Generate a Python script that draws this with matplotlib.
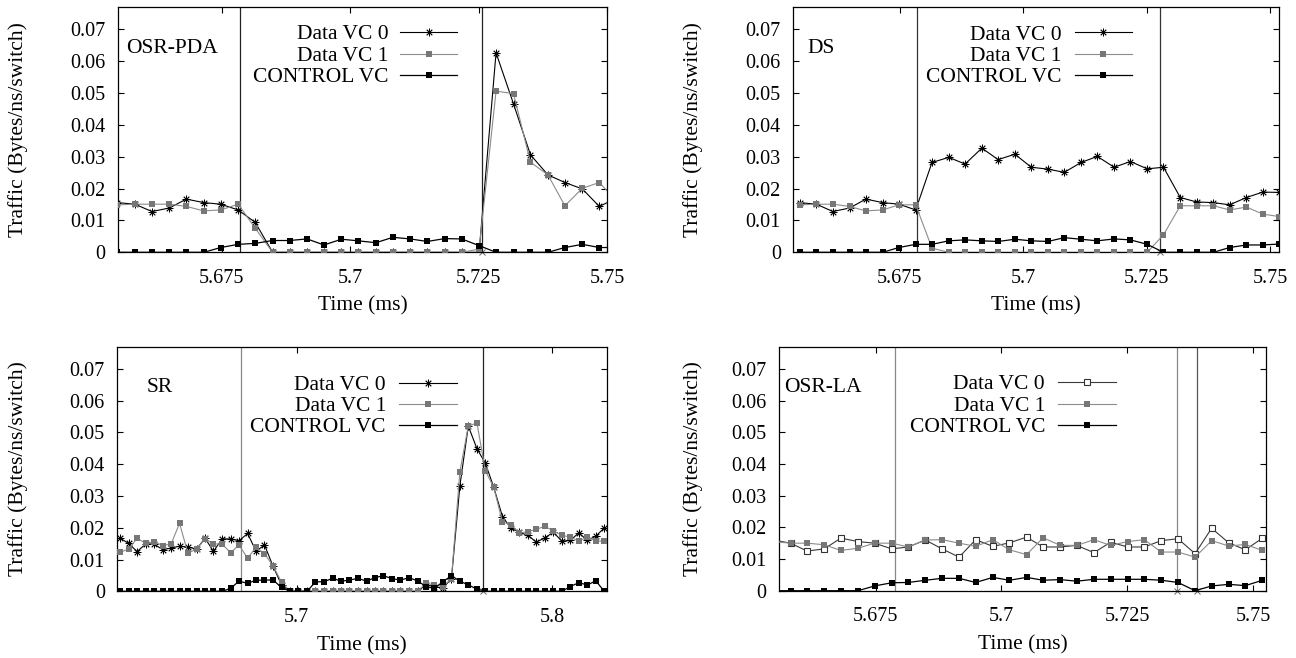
import numpy as np
import matplotlib
matplotlib.use('Agg')
from matplotlib import pyplot as plt
from matplotlib.lines import Line2D

W, H = 1296, 658

# sample times (ms) of the OSR-PDA, DS and OSR-LA runs
time_a = [5.6547, 5.6581, 5.6614, 5.6648, 5.6681, 5.6715, 5.6748, 5.6782, 5.6815, 5.6849,
          5.6882, 5.6916, 5.6949, 5.6983, 5.7016, 5.7050, 5.7083, 5.7117, 5.7150, 5.7184,
          5.7217, 5.7251, 5.7284, 5.7318, 5.7351, 5.7385, 5.7418, 5.7452, 5.7485, 5.7519]

# sample times (ms) of the SR run
time_sr = [5.6307, 5.6340, 5.6374, 5.6407, 5.6440, 5.6474, 5.6507, 5.6540, 5.6573, 5.6607,
           5.6640, 5.6673, 5.6707, 5.6740, 5.6773, 5.6807, 5.6840, 5.6873, 5.6906, 5.6940,
           5.6973, 5.7006, 5.7040, 5.7073, 5.7106, 5.7140, 5.7173, 5.7206, 5.7239, 5.7273,
           5.7306, 5.7339, 5.7373, 5.7406, 5.7439, 5.7473, 5.7506, 5.7539, 5.7572, 5.7606,
           5.7639, 5.7672, 5.7706, 5.7739, 5.7772, 5.7806, 5.7839, 5.7872, 5.7905, 5.7939,
           5.7972, 5.8005, 5.8039, 5.8072, 5.8105, 5.8139, 5.8172, 5.8205]

pda_vc0 = [0.0156, 0.0151, 0.0128, 0.0139, 0.0167, 0.0156, 0.0151, 0.0133, 0.0094,
           0, 0, 0, 0, 0, 0, 0, 0, 0, 0, 0, 0, 0,
           0.0626, 0.0466, 0.0306, 0.0243, 0.0219, 0.0199, 0.0144, 0.0170]
pda_vc1 = [0.0149, 0.0151, 0.0151, 0.0151, 0.0144, 0.0130, 0.0133, 0.0151, 0.0076,
           0, 0, 0, 0, 0, 0, 0, 0, 0, 0, 0, 0,
           0.0010, 0.0506, 0.0498, 0.0283, 0.0243, 0.0146, 0.0201, 0.0219, 0.0160]
pda_ctrl = [0, 0, 0, 0, 0, 0, 0.0015, 0.0025, 0.0028, 0.0037, 0.0037, 0.0042, 0.0023,
            0.0041, 0.0036, 0.0030, 0.0047, 0.0042, 0.0034, 0.0043, 0.0042, 0.0021,
            0, 0, 0, 0, 0.0015, 0.0025, 0.0015, 0.0015]
pda_events = [5.6785, 5.7256]

ds_vc0 = [0.0156, 0.0151, 0.0128, 0.0139, 0.0167, 0.0156, 0.0151, 0.0133, 0.0282, 0.0298,
          0.0277, 0.0327, 0.0291, 0.0308, 0.0267, 0.0261, 0.0251, 0.0282, 0.0301, 0.0267,
          0.0285, 0.0262, 0.0267, 0.0172, 0.0158, 0.0156, 0.0149, 0.0172, 0.0189, 0.0188]
ds_vc1 = [0.0149, 0.0151, 0.0151, 0.0144, 0.0130, 0.0133, 0.0149, 0.0149, 0.0013,
          0, 0, 0, 0, 0, 0, 0, 0, 0, 0, 0, 0, 0,
          0.0055, 0.0146, 0.0146, 0.0146, 0.0133, 0.0142, 0.0120, 0.0112]
ds_ctrl = [0, 0, 0, 0, 0, 0, 0.0015, 0.0025, 0.0025, 0.0036, 0.0039, 0.0036, 0.0034,
           0.0041, 0.0036, 0.0034, 0.0046, 0.0041, 0.0036, 0.0042, 0.0039, 0.0025,
           0, 0, 0, 0, 0.0015, 0.0023, 0.0023, 0.0026]
ds_events = [5.6784, 5.7276]

sr_vc0 = [0.0167, 0.0151, 0.0125, 0.0149, 0.0149, 0.0131, 0.0136, 0.0142, 0.0139, 0.0133,
          0.0167, 0.0126, 0.0165, 0.0165, 0.0159, 0.0182, 0.0126, 0.0146, 0.0080, 0.0020,
          0, 0, 0, 0, 0, 0, 0, 0, 0, 0, 0, 0, 0, 0, 0, 0,
          0.0020, 0.0015, 0.0010, 0.0040, 0.0332, 0.0520, 0.0449, 0.0403, 0.0327, 0.0235,
          0.0199, 0.0186, 0.0176, 0.0155, 0.0168, 0.0186, 0.0158, 0.0160, 0.0184, 0.0160,
          0.0174, 0.0199]
sr_vc1 = [0.0123, 0.0133, 0.0167, 0.0151, 0.0156, 0.0144, 0.0149, 0.0214, 0.0120, 0.0133,
          0.0165, 0.0149, 0.0149, 0.0121, 0.0146, 0.0104, 0.0139, 0.0118, 0.0081, 0.0029,
          0, 0, 0, 0, 0, 0, 0, 0, 0, 0, 0, 0, 0, 0, 0, 0,
          0.0025, 0.0020, 0.0015, 0.0040, 0.0376, 0.0520, 0.0530, 0.0379, 0.0327, 0.0218,
          0.0210, 0.0183, 0.0188, 0.0195, 0.0205, 0.0190, 0.0176, 0.0171, 0.0158, 0.0171,
          0.0158, 0.0158]
sr_ctrl = [0, 0, 0, 0, 0, 0, 0, 0, 0, 0, 0, 0, 0,
           0.0009, 0.0032, 0.0025, 0.0035, 0.0035, 0.0036, 0.0012, 0, 0, 0,
           0.0030, 0.0030, 0.0041, 0.0032, 0.0035, 0.0041, 0.0032, 0.0043, 0.0049, 0.0040,
           0.0035, 0.0043, 0.0033, 0.0015, 0.0009, 0.0030, 0.0049, 0.0032, 0.0020, 0.0007,
           0, 0, 0, 0, 0, 0, 0, 0, 0, 0,
           0.0015, 0.0027, 0.0020, 0.0033, 0]
sr_events = [5.6781, 5.7730]

la_vc0 = [0.0160, 0.0150, 0.0125, 0.0132, 0.0166, 0.0155, 0.0150, 0.0132, 0.0138, 0.0160,
          0.0132, 0.0106, 0.0161, 0.0140, 0.0151, 0.0169, 0.0138, 0.0138, 0.0143, 0.0120,
          0.0153, 0.0138, 0.0138, 0.0158, 0.0164, 0.0117, 0.0197, 0.0151, 0.0129, 0.0166]
la_vc1 = [0.0155, 0.0150, 0.0150, 0.0145, 0.0127, 0.0134, 0.0150, 0.0150, 0.0138, 0.0160,
          0.0161, 0.0150, 0.0140, 0.0161, 0.0129, 0.0114, 0.0167, 0.0143, 0.0143, 0.0161,
          0.0143, 0.0155, 0.0161, 0.0122, 0.0122, 0.0106, 0.0158, 0.0141, 0.0146, 0.0127]
la_ctrl = [0, 0, 0, 0, 0, 0, 0.0015, 0.0025, 0.0026, 0.0033, 0.0039, 0.0039, 0.0026,
           0.0042, 0.0033, 0.0042, 0.0033, 0.0035, 0.0030, 0.0036, 0.0036, 0.0036, 0.0036,
           0.0033, 0.0026, 0, 0.0015, 0.0020, 0.0016, 0.0033]
la_events = [5.6788, 5.7349, 5.7389]

y_ticks = [0, 0.01, 0.02, 0.03, 0.04, 0.05, 0.06, 0.07]
y_tick_labels = ['0', '0.01', '0.02', '0.03', '0.04', '0.05', '0.06', '0.07']
labels = ['Data VC 0', 'Data VC 1', 'CONTROL VC']

plt.rcParams['font.family'] = ['Liberation Serif', 'DejaVu Serif']

STAR = dict(color='black', lw=0.8, marker=(8, 2, 0), ms=5.5, mew=0.6, mec='black')
OPEN_SQ = dict(color='#3a3a3a', lw=0.8, marker='s', ms=4.8, mfc='white', mec='#333333', mew=0.8)
GRAY_SQ = dict(color='#8c8c8c', lw=0.8, marker='s', ms=4.3, mfc='#777777', mec='#777777', mew=0)
CTRL_SQ = dict(color='black', lw=0.9, marker='s', ms=4.8, mfc='black', mec='black', mew=0)

panels = [
    dict(name='OSR-PDA', box=(118, 7, 607, 252.3), xlim=(5.6548, 5.75),
         xticks=[5.675, 5.7, 5.725, 5.75], xlabels=['5.675', '5.7', '5.725', '5.75'],
         t=time_a, series=(pda_vc0, pda_vc1, pda_ctrl), vc0=STAR,
         events=pda_events, ev_colors=['#222222', '#222222'],
         name_at=(126, 53.3), key_right=388.3, key_rows=(32, 53.5, 75), key_line=(400, 457),
         ylab_x=18, xlab_y=306),
    dict(name='DS', box=(793.3, 7, 1279, 252.3), xlim=(5.6534, 5.7518),
         xticks=[5.675, 5.7, 5.725, 5.75], xlabels=['5.675', '5.7', '5.725', '5.75'],
         t=time_a, series=(ds_vc0, ds_vc1, ds_ctrl), vc0=STAR,
         events=ds_events, ev_colors=['#333333', '#333333'],
         name_at=(807.3, 53.3), key_right=1061.7, key_rows=(32.3, 53.5, 75), key_line=(1075, 1131.7),
         ylab_x=693, xlab_y=306),
    dict(name='SR', box=(117.3, 346.7, 607.3, 591.3), xlim=(5.6296, 5.8217),
         xticks=[5.7, 5.8], xlabels=['5.7', '5.8'],
         t=time_sr, series=(sr_vc0, sr_vc1, sr_ctrl), vc0=STAR,
         events=sr_events, ev_colors=['#888888', '#222222'],
         name_at=(146.7, 391.7), key_right=386, key_rows=(382.7, 403.5, 425), key_line=(399.3, 456.7),
         ylab_x=18, xlab_y=646),
    dict(name='OSR-LA', box=(779, 346.7, 1266, 590.7), xlim=(5.6558, 5.7526),
         xticks=[5.675, 5.7, 5.725, 5.75], xlabels=['5.675', '5.7', '5.725', '5.75'],
         t=time_a, series=(la_vc0, la_vc1, la_ctrl), vc0=OPEN_SQ,
         events=la_events, ev_colors=['#888888', '#888888', '#555555'],
         name_at=(784, 391.7), key_right=1045, key_rows=(382, 403.5, 425), key_line=(1058.3, 1116),
         ylab_x=693, xlab_y=645),
]


def fx(px):
    return px / W


def fy(py):
    return 1 - py / H


fig = plt.figure(figsize=(W / 100, H / 100), dpi=100)

for p in panels:
    left, top, right, bottom = p['box']
    ax = fig.add_axes([fx(left), fy(bottom), (right - left) / W, (bottom - top) / H])

    for ev, c in zip(p['events'], p['ev_colors']):
        ax.axvline(ev, color=c, lw=0.9, zorder=1)
    # event marks on the time axis (all but the first)
    ax.plot(p['events'][1:], [0] * (len(p['events']) - 1), ls='none', marker='x',
            ms=5, mew=0.7, color='#666666', clip_on=False, zorder=2)

    vc0, vc1, ctrl = p['series']
    ax.plot(p['t'], vc0, zorder=3, **p['vc0'])
    ax.plot(p['t'], vc1, zorder=4, **GRAY_SQ)
    ax.plot(p['t'], ctrl, zorder=5, **CTRL_SQ)

    ax.set_xlim(*p['xlim'])
    ax.set_ylim(0, 0.077)
    ax.set_xticks(p['xticks'])
    ax.set_xticklabels(p['xlabels'])
    ax.set_yticks(y_ticks)
    ax.set_yticklabels(y_tick_labels)
    ax.tick_params(direction='in', top=True, right=True, length=4, width=0.8, labelsize=14.5)
    ax.tick_params(axis='x', pad=12)
    ax.tick_params(axis='y', pad=9)
    for s in ax.spines.values():
        s.set_linewidth(0.9)

    # panel name
    fig.text(fx(p['name_at'][0]), fy(p['name_at'][1]), p['name'], ha='left', va='baseline',
             fontsize=15.5)

    # key
    x0, x1 = p['key_line']
    for lab, row, st in zip(labels, p['key_rows'], (p['vc0'], GRAY_SQ, CTRL_SQ)):
        fig.text(fx(p['key_right']), fy(row + 7.2), lab, ha='right', va='baseline', fontsize=15.5)
        fig.add_artist(Line2D([fx(x0), fx((x0 + x1) / 2), fx(x1)], [fy(row)] * 3,
                              transform=fig.transFigure, markevery=[1], **st))

    fig.text(fx(p['ylab_x']), fy((top + bottom) / 2), 'Traffic (Bytes/ns/switch)',
             rotation=90, ha='center', va='center', fontsize=15.5)
    fig.text(fx((left + right) / 2), fy(p['xlab_y']), 'Time (ms)', ha='center', va='center',
             fontsize=15.5)

fig.savefig('out.png', dpi=100)
